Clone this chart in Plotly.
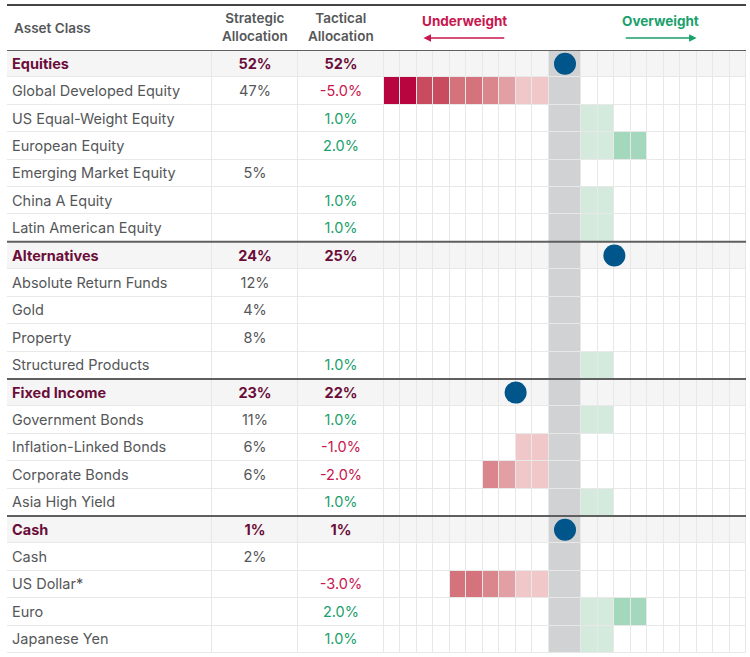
import plotly.graph_objects as go

# table data
asset_class = ["Equities", "Global Developed Equity", "US Equal-Weight Equity", "European Equity",
               "Emerging Market Equity", "China A Equity", "Latin American Equity",
               "Alternatives", "Absolute Return Funds", "Gold", "Property", "Structured Products",
               "Fixed Income", "Government Bonds", "Inflation-Linked Bonds", "Corporate Bonds",
               "Asia High Yield",
               "Cash", "Cash", "US Dollar*", "Euro", "Japanese Yen"]
is_group = [1, 0, 0, 0, 0, 0, 0,
            1, 0, 0, 0, 0,
            1, 0, 0, 0, 0,
            1, 0, 0, 0, 0]
strategic = [52, 47, None, None, 5, None, None,
             24, 12, 4, 8, None,
             23, 11, 6, 6, None,
             1, 2, None, None, None]
tactical = [52, -5.0, 1.0, 2.0, None, 1.0, 1.0,
            25, None, None, None, 1.0,
            22, 1.0, -1.0, -2.0, 1.0,
            1, None, -3.0, 2.0, 1.0]

W, H = 750, 657
TXT = "#555759"
GROUP = "#6b0d39"
NEG = "#c8164e"
POS = "#1aa06c"
FONT = "Inter"

# cell colours by distance from the centre band (0.5% per cell)
red_by_k = ["#f0c8c9", "#f0c8c9", "#e3a0a4", "#d9878c", "#d4737b",
            "#d4737b", "#c84b60", "#c84b60", "#b8043f", "#b8043f"]
green_by_k = ["#d3eadd", "#d3eadd", "#a3d8bd", "#a3d8bd", "#7fc9a4",
              "#7fc9a4", "#4fb585", "#4fb585", "#1aa06c", "#1aa06c"]

palette = ["#ffffff", "#f5f5f5", "#d1d2d4"]
for c in red_by_k + green_by_k:
    if c not in palette:
        palette.append(c)
n = len(palette)
cscale = []
for i, c in enumerate(palette):
    cscale.append([i / n, c])
    cscale.append([(i + 1) / n, c])

rows = list(range(len(asset_class)))
text_y = [r + 0.05 for r in rows]  # nudge text onto the optical row centre

# grid: 10 cells left, centre band (2 wide), 10 cells right
x_edges = list(range(-11, 0)) + list(range(1, 12))
grid_z = []
for r in rows:
    bg = 1 if is_group[r] else 0
    v = tactical[r] if not is_group[r] else None
    ncell = int(round(abs(v) / 0.5)) if v else 0
    line = []
    for j in range(21):
        if j == 10:
            code = 2
        elif j < 10:
            k = 10 - j
            code = palette.index(red_by_k[k - 1]) if (v and v < 0 and k <= ncell) else bg
        else:
            k = j - 10
            code = palette.index(green_by_k[k - 1]) if (v and v > 0 and k <= ncell) else bg
        line.append(code + 0.5)
    grid_z.append(line)

text_z = [[(1.5 if is_group[r] else 0.5)] * 3 for r in rows]

fig = go.Figure()

fig.add_trace(go.Heatmap(
    x=[7, 212, 298, 384], y=rows, z=text_z, colorscale=cscale, zmin=0, zmax=n,
    showscale=False, xgap=1, ygap=1, hoverinfo="skip", xaxis="x", yaxis="y"))
fig.add_trace(go.Heatmap(
    x=x_edges, y=rows, z=grid_z, colorscale=cscale, zmin=0, zmax=n,
    showscale=False, xgap=1, ygap=1, hoverinfo="skip", xaxis="x2", yaxis="y"))

# dots: tactical minus strategic for the asset groups
dot_rows = [r for r in rows if is_group[r]]
dot_x = []
for r in dot_rows:
    d = tactical[r] - strategic[r]
    dot_x.append(0 if d == 0 else (1 + 2 * abs(d)) * (1 if d > 0 else -1))
fig.add_trace(go.Scatter(
    x=dot_x, y=dot_rows, mode="markers", xaxis="x2", yaxis="y",
    marker=dict(size=22, color="#00558a"), hoverinfo="skip"))

# text columns
name_txt, name_col, s_txt, s_col, t_txt, t_col = [], [], [], [], [], []
for r in rows:
    g = is_group[r]
    name_txt.append("<b>%s</b>" % asset_class[r] if g else asset_class[r])
    name_col.append(GROUP if g else TXT)
    s = strategic[r]
    if s is None:
        s_txt.append("")
    else:
        s_txt.append("<b>%d%%</b>" % s if g else "%d%%" % s)
    s_col.append(GROUP if g else TXT)
    t = tactical[r]
    if t is None:
        t_txt.append("")
        t_col.append(TXT)
    elif g:
        t_txt.append("<b>%d%%</b>" % t)
        t_col.append(GROUP)
    else:
        t_txt.append("%.1f%%" % t)
        t_col.append(NEG if t < 0 else POS)

fig.add_trace(go.Scatter(
    x=[12] * len(rows), y=text_y, mode="text", text=name_txt, textposition="middle right",
    textfont=dict(family=FONT, size=14.5, color=name_col), xaxis="x", yaxis="y",
    hoverinfo="skip", cliponaxis=False))
fig.add_trace(go.Scatter(
    x=[255] * len(rows), y=text_y, mode="text", text=s_txt, textposition="middle center",
    textfont=dict(family=FONT, size=14.5, color=s_col), xaxis="x", yaxis="y",
    hoverinfo="skip", cliponaxis=False))
fig.add_trace(go.Scatter(
    x=[341] * len(rows), y=text_y, mode="text", text=t_txt, textposition="middle center",
    textfont=dict(family=FONT, size=14.5, color=t_col), xaxis="x", yaxis="y",
    hoverinfo="skip", cliponaxis=False))

# heavy rules: top, header bottom, between groups
shapes = [dict(type="line", xref="paper", yref="paper", x0=7 / W, x1=746 / W,
               y0=1 - 5 / H, y1=1 - 5 / H, line=dict(color="#444444", width=2))]
for r in rows:
    if is_group[r]:
        shapes.append(dict(type="line", xref="paper", yref="y", x0=7 / W, x1=746 / W,
                           y0=r - 0.5, y1=r - 0.5, line=dict(color="#5f5f5f", width=2)))

hdr = dict(family=FONT, size=13.5, color=TXT, weight=600)
annotations = [
    dict(text="Asset Class", xref="x", yref="paper", x=12, y=1 - 28 / H, xanchor="left",
         yanchor="middle", showarrow=False, font=hdr),
    dict(text="Strategic<br>Allocation", xref="x", yref="paper", x=255, y=1 - 27 / H,
         xanchor="center", yanchor="middle", showarrow=False, font=hdr),
    dict(text="Tactical<br>Allocation", xref="x", yref="paper", x=341, y=1 - 27 / H,
         xanchor="center", yanchor="middle", showarrow=False, font=hdr),
    dict(text="<b>Underweight</b>", xref="x2", yref="paper", x=-6.1, y=1 - 21 / H,
         xanchor="center", yanchor="middle", showarrow=False,
         font=dict(family=FONT, size=13.5, color=NEG)),
    dict(text="<b>Overweight</b>", xref="x2", yref="paper", x=5.8, y=1 - 21 / H,
         xanchor="center", yanchor="middle", showarrow=False,
         font=dict(family=FONT, size=13.5, color=POS)),
    dict(text="", xref="x2", yref="paper", x=-8.6, y=1 - 38 / H, axref="x2", ayref="pixel",
         ax=-3.6, ay=0, showarrow=True, arrowhead=2, arrowsize=1, arrowwidth=1.5,
         arrowcolor=NEG),
    dict(text="", xref="x2", yref="paper", x=8.0, y=1 - 38 / H, axref="x2", ayref="pixel",
         ax=3.6, ay=0, showarrow=True, arrowhead=2, arrowsize=1, arrowwidth=1.5,
         arrowcolor=POS),
]

ax_off = dict(showgrid=False, zeroline=False, showticklabels=False, ticks="", fixedrange=True)
fig.update_layout(
    width=W, height=H, margin=dict(l=0, r=0, t=0, b=0, pad=0),
    paper_bgcolor="white", plot_bgcolor="#e8e8e8", showlegend=False,
    xaxis=dict(domain=[7 / W, 384 / W], range=[7, 384], anchor="y", **ax_off),
    xaxis2=dict(domain=[384 / W, 746 / W], range=[-11, 11], anchor="y", **ax_off),
    yaxis=dict(domain=[4 / H, 1 - 50 / H], range=[21.5, -0.5], **ax_off),
    shapes=shapes, annotations=annotations,
)

# page body has a default 8px margin; drop it so the chart sits at the top-left
fig.write_html("out.html", config={"displayModeBar": False},
               post_script="document.body.style.margin='0';")
